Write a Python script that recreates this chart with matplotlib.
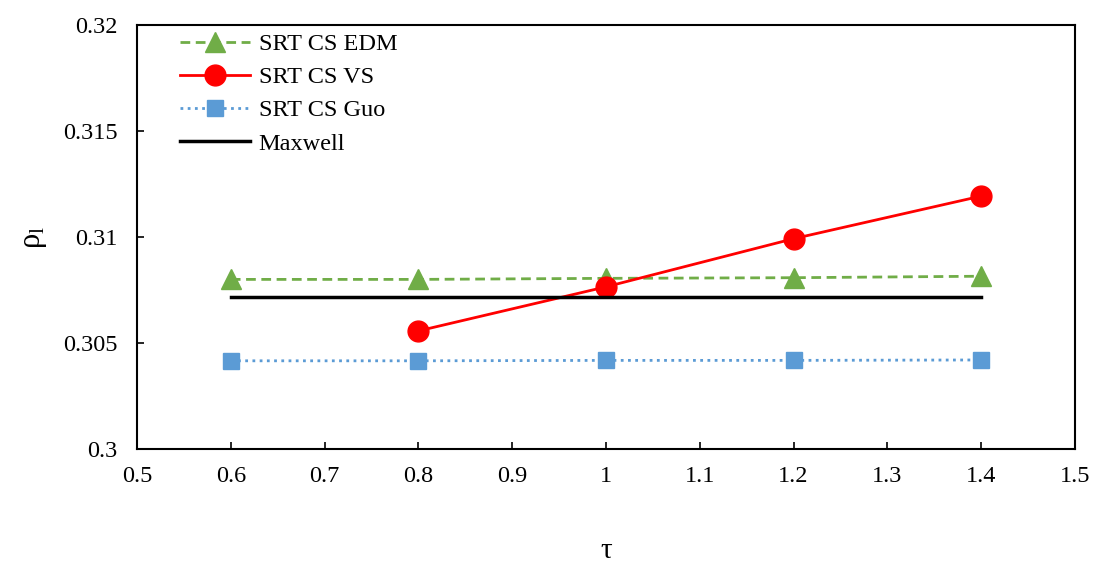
import matplotlib
matplotlib.use("Agg")
import matplotlib.pyplot as plt

plt.rcParams['font.family'] = ['Liberation Serif', 'DejaVu Serif']
plt.rcParams['mathtext.fontset'] = 'stix'

tau = [0.6, 0.8, 1.0, 1.2, 1.4]
edm = [0.30800, 0.30800, 0.30805, 0.30808, 0.30815]
tau_vs = [0.8, 1.0, 1.2, 1.4]
vs = [0.30557, 0.30765, 0.30992, 0.31193]
guo = [0.30416, 0.30416, 0.30418, 0.30418, 0.30420]
maxwell_tau = [0.6, 1.4]
maxwell = [0.30718, 0.30718]

fig = plt.figure(figsize=(11.04, 5.67), dpi=100)
ax = fig.add_axes([137/1104, 1 - 449/567, (1075 - 137)/1104, (449 - 25)/567])

ax.plot(tau, edm, color='#70AD47', linestyle=(0, (3.5, 2)), linewidth=2,
        marker='^', markersize=15, label='SRT CS EDM')
ax.plot(tau_vs, vs, color='#FF0000', linestyle='-', linewidth=2,
        marker='o', markersize=15, label='SRT CS VS')
ax.plot(tau, guo, color='#5B9BD5', linestyle=(0, (1, 1.6)), linewidth=2,
        marker='s', markersize=12, label='SRT CS Guo')
ax.plot(maxwell_tau, maxwell, color='black', linestyle='-', linewidth=2.5,
        label='Maxwell')

ax.set_xlim(0.5, 1.5)
ax.set_ylim(0.3, 0.32)
ax.set_xticks([0.5, 0.6, 0.7, 0.8, 0.9, 1.0, 1.1, 1.2, 1.3, 1.4, 1.5])
ax.set_xticklabels(['0.5', '0.6', '0.7', '0.8', '0.9', '1', '1.1', '1.2', '1.3', '1.4', '1.5'])
ax.set_yticks([0.3, 0.305, 0.31, 0.315, 0.32])
ax.set_yticklabels(['0.3', '0.305', '0.31', '0.315', '0.32'])
ax.tick_params(direction='in', length=5, width=1.2, labelsize=17.5)
ax.tick_params(axis='x', pad=12)
ax.tick_params(axis='y', pad=14)
for s in ax.spines.values():
    s.set_linewidth(1.5)

ax.set_xlabel('τ', fontsize=21, labelpad=37)
ax.set_ylabel('ρ$_\\mathregular{l}$', fontsize=22, labelpad=10)

ax.legend(loc='upper left', frameon=False, fontsize=17.5, handlelength=2.9,
          borderaxespad=0.0, labelspacing=0.46, handletextpad=0.35,
          bbox_to_anchor=(0.035, 1.004))

fig.savefig('out.png', dpi=100)
